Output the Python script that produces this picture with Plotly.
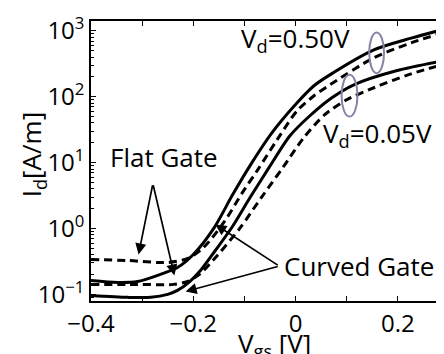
import math
import plotly.graph_objects as go

# ---- data ----
vg_curved_050 = [-0.40, -0.3475, -0.309, -0.27, -0.231, -0.20, -0.159, -0.124, -0.089, -0.046, 0.003, 0.036, 0.067, 0.153, 0.226, 0.300]
id_curved_050 = [0.163, 0.152, 0.157, 0.194, 0.256, 0.404, 1.035, 3.16, 9.0, 28.5, 81, 147, 215, 515, 776, 1110]

vg_flat_050 = [-0.40, -0.328, -0.250, -0.211, -0.180, -0.139, -0.104, -0.075, -0.036, 0.003, 0.036, 0.067, 0.153, 0.226, 0.300]
id_flat_050 = [0.339, 0.327, 0.305, 0.351, 0.515, 1.28, 3.51, 7.57, 22.3, 61.4, 103.5, 152, 390, 658, 1000]

vg_curved_005 = [-0.40, -0.328, -0.283, -0.250, -0.231, -0.207, -0.186, -0.157, -0.126, -0.089, -0.052, -0.011, 0.028, 0.071, 0.114, 0.197, 0.300]
id_curved_005 = [0.0966, 0.0902, 0.0902, 0.1, 0.115, 0.157, 0.231, 0.464, 1.0, 2.95, 8.4, 25.6, 51.5, 96.5, 152, 248, 364]

vg_flat_005 = [-0.40, -0.309, -0.239, -0.211, -0.186, -0.153, -0.108, -0.067, -0.025, 0.016, 0.057, 0.100, 0.153, 0.226, 0.300]
id_flat_005 = [0.142, 0.142, 0.142, 0.157, 0.208, 0.39, 1.035, 2.95, 8.4, 23.9, 53.4, 90, 137, 223, 327]

x_tick_vals = [-0.4, -0.2, 0.0, 0.2]
x_tick_text = ["\u22120.4", "\u22120.2", "0", "0.2"]
y_tick_vals = [0.1, 1, 10, 100, 1000]
y_tick_text = ["10<sup>\u22121</sup>", "10<sup>0</sup>", "10<sup>1</sup>", "10<sup>2</sup>", "10<sup>3</sup>"]

FONT = "Open Sans"
FS_TICK = 24
FS_TEXT = 26

fig = go.Figure()
for xs, ys, dash in [
    (vg_curved_050, id_curved_050, "solid"),
    (vg_flat_050, id_flat_050, "8px,5px"),
    (vg_curved_005, id_curved_005, "solid"),
    (vg_flat_005, id_flat_005, "8px,5px"),
]:
    fig.add_trace(go.Scatter(x=xs, y=ys, mode="lines",
                             line=dict(color="black", width=3, dash=dash, shape="spline", smoothing=0.8),
                             showlegend=False, hoverinfo="skip"))

L = math.log10
tf = dict(family=FONT, size=FS_TEXT, color="black")

annotations = []
# Flat Gate arrows
for hx, hy in [(-0.307, 10 ** -0.394), (-0.237, 10 ** -0.712)]:
    annotations.append(dict(x=hx, y=L(hy), ax=-0.279, ay=0.68, xref="x", yref="y", axref="x", ayref="y",
                            text="", showarrow=True, arrowhead=2, arrowsize=1.3, arrowwidth=1.7,
                            arrowcolor="black", standoff=0, startstandoff=0))
# Curved Gate arrows
for hx, hy in [(-0.157, 10 ** 0.061), (-0.215, 10 ** -0.955)]:
    annotations.append(dict(x=hx, y=L(hy), ax=-0.032, ay=-0.57, xref="x", yref="y", axref="x", ayref="y",
                            text="", showarrow=True, arrowhead=2, arrowsize=1.3, arrowwidth=1.7,
                            arrowcolor="black", standoff=0, startstandoff=0))

annotations += [
    dict(x=-0.366, y=1.08, xref="x", yref="y", text="Flat Gate", showarrow=False,
         xanchor="left", yanchor="middle", font=tf),
    dict(x=-0.026, y=-0.57, xref="x", yref="y", text="Curved Gate", showarrow=False,
         xanchor="left", yanchor="middle", font=tf),
    dict(x=-0.110, y=2.87, xref="x", yref="y", text="V<sub>d</sub>=0.50V", showarrow=False,
         xanchor="left", yanchor="middle", font=tf),
    dict(x=0.050, y=1.44, xref="x", yref="y", text="V<sub>d</sub>=0.05V", showarrow=False,
         xanchor="left", yanchor="middle", font=tf),
    dict(x=(268 - 83) / 360, y=-(336 - 293) / 280, xref="paper", yref="paper", text="V<sub>gs</sub> [V]",
         showarrow=False, xanchor="center", yanchor="middle", font=tf),
    dict(x=-(83 - 24) / 360, y=(293 - 147) / 280, xref="paper", yref="paper", text="I<sub>d</sub>[A/m]",
         textangle=-90, showarrow=False, xanchor="center", yanchor="middle", font=tf),
]

shapes = [
    dict(type="circle", xref="x", yref="y", x0=0.144, x1=0.173, y0=228, y1=948,
         line=dict(color="#8a82a6", width=2)),
    dict(type="circle", xref="x", yref="y", x0=0.090, x1=0.121, y0=50, y1=215,
         line=dict(color="#8a82a6", width=2)),
]

axis_common = dict(showline=True, linecolor="black", linewidth=1.5, mirror="ticks",
                   ticks="inside", ticklen=5, tickwidth=1.2, tickcolor="black",
                   showgrid=False, zeroline=False,
                   tickfont=dict(family=FONT, size=FS_TICK, color="black"))

fig.update_layout(
    width=444, height=354,
    margin=dict(l=83, r=1, t=13, b=61),
    paper_bgcolor="white", plot_bgcolor="white",
    xaxis=dict(range=[-0.4, 0.3], tickvals=x_tick_vals, ticktext=x_tick_text,
               minor=dict(dtick=0.1, tick0=0, ticks="inside", ticklen=5, tickcolor="black", tickwidth=1.2),
               **axis_common),
    yaxis=dict(type="log", range=[-1.1, 3.15], tickvals=y_tick_vals, ticktext=y_tick_text,
               minor=dict(dtick="D1", ticks="inside", ticklen=3, tickcolor="black", tickwidth=1),
               **axis_common),
    annotations=annotations,
    shapes=shapes,
)

fig.write_html("out.html")
